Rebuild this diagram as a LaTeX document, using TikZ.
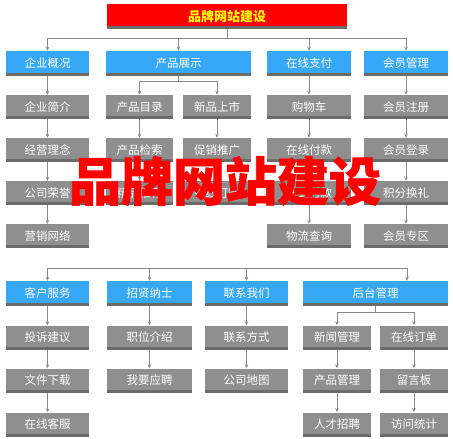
\documentclass[tikz,border=0pt]{standalone}
\usepackage{fontspec}
\setmainfont{Noto Sans CJK SC}
\newfontfamily\wmfont[BoldFeatures={FakeBold=1.2}]{Noto Sans CJK SC}
\usetikzlibrary{arrows.meta}
\definecolor{bluebox}{HTML}{36A8F5}
\definecolor{graybox}{HTML}{8F8F8F}
\definecolor{strip}{HTML}{6B6B6B}
\definecolor{lineg}{HTML}{8A8A8A}
\definecolor{titlered}{HTML}{FF0000}
\definecolor{titleyel}{HTML}{FFFF00}
\tikzset{
  basebox/.style={rectangle, inner sep=0pt, text=white, font=\fontsize{11.5}{12}\selectfont,
    path picture={\fill[strip] (path picture bounding box.south west) rectangle ([yshift=3pt]path picture bounding box.south east);}},
  gbox/.style={basebox, fill=graybox, minimum height=24pt},
  bbox/.style={basebox, fill=bluebox, minimum height=25pt},
  conn/.style={draw=lineg, line width=0.8pt},
  arr/.style={conn, -{Stealth[length=4pt,width=3.5pt]}},
}
\begin{document}
\begin{tikzpicture}[x=1pt,y=-1pt]
\useasboundingbox[fill=white] (0,0) rectangle (453,439);
% title
\node[basebox, fill=titlered, minimum width=240pt, minimum height=25pt, text=titleyel, font=\fontsize{13}{14}\selectfont\bfseries] (title) at (227,16.5) {品牌网站建设};
\coordinate (bus1) at (0,38);
\coordinate (bus2) at (0,268);
\coordinate (bus3) at (0,81);
\coordinate (bus4) at (0,312);
% upper row 1
\node[bbox, minimum width=83pt] (a0) at (47.5,63.5) {企业概况};
\node[bbox, minimum width=145pt] (b0) at (178.5,63.5) {产品展示};
\node[bbox, minimum width=84pt] (c0) at (309,63.5) {在线支付};
\node[bbox, minimum width=84pt] (d0) at (406,63.5) {会员管理};
% column A
\node[gbox, minimum width=83pt] (a1) at (47.5,107) {企业简介};
\node[gbox, minimum width=83pt] (a2) at (47.5,150) {经营理念};
\node[gbox, minimum width=83pt] (a3) at (47.5,193) {公司荣誉};
\node[gbox, minimum width=83pt] (a4) at (47.5,236) {营销网络};
% column B1
\node[gbox, minimum width=67pt] (e1) at (139.5,107) {产品目录};
\node[gbox, minimum width=67pt] (e2) at (139.5,150) {产品检索};
\node[gbox, minimum width=67pt] (e3) at (139.5,193) {精品推荐};
% column B2
\node[gbox, minimum width=68pt] (f1) at (217,107) {新品上市};
\node[gbox, minimum width=68pt] (f2) at (217,150) {促销推广};
\node[gbox, minimum width=68pt] (f3) at (217,193) {在线订购};
% column C
\node[gbox, minimum width=84pt] (c1) at (309,107) {购物车};
\node[gbox, minimum width=84pt] (c2) at (309,150) {在线付款};
\node[gbox, minimum width=84pt] (c3) at (309,193) {货到付款};
\node[gbox, minimum width=84pt] (c4) at (309,236) {物流查询};
% column D
\node[gbox, minimum width=84pt] (d1) at (406,107) {会员注册};
\node[gbox, minimum width=84pt] (d2) at (406,150) {会员登录};
\node[gbox, minimum width=84pt] (d3) at (406,193) {积分换礼};
\node[gbox, minimum width=84pt] (d4) at (406,236) {会员专区};
% lower row 1
\node[bbox, minimum width=83pt] (g0) at (47.5,293.5) {客户服务};
\node[bbox, minimum width=85pt] (h0) at (149.5,293.5) {招贤纳士};
\node[bbox, minimum width=83pt] (i0) at (246.5,293.5) {联系我们};
\node[bbox, minimum width=145pt] (j0) at (375.5,293.5) {后台管理};
\node[gbox, minimum width=83pt] (g1) at (47.5,337.5) {投诉建议};
\node[gbox, minimum width=83pt] (g2) at (47.5,380.5) {文件下载};
\node[gbox, minimum width=83pt] (g3) at (47.5,424.5) {在线客服};
\node[gbox, minimum width=85pt] (h1) at (149.5,337.5) {职位介绍};
\node[gbox, minimum width=85pt] (h2) at (149.5,380.5) {我要应聘};
\node[gbox, minimum width=83pt] (i1) at (246.5,337.5) {联系方式};
\node[gbox, minimum width=83pt] (i2) at (246.5,380.5) {公司地图};
\node[gbox, minimum width=68pt] (k1) at (337,337.5) {新闻管理};
\node[gbox, minimum width=68pt] (k2) at (337,380.5) {产品管理};
\node[gbox, minimum width=68pt] (k3) at (337,424.5) {人才招聘};
\node[gbox, minimum width=68pt] (l1) at (414,337.5) {在线订单};
\node[gbox, minimum width=68pt] (l2) at (414,380.5) {留言板};
\node[gbox, minimum width=68pt] (l3) at (414,424.5) {访问统计};
% top bus
\draw[conn] (title.south) -- (title.south |- bus1);
\draw[conn] (a0.north |- bus1) -- (d0.north |- bus1);
\foreach \n in {a0,b0,c0,d0} \draw[arr] (\n.north |- bus1) -- (\n.north);
% product sub-bus
\draw[conn] (b0.south) -- (b0.south |- bus3);
\draw[conn] (e1.north |- bus3) -- (f1.north |- bus3);
\foreach \n in {e1,f1} \draw[arr] (\n.north |- bus3) -- (\n.north);
% lower bus
\coordinate (jq) at (407,268);
\draw[conn] (g0.north |- bus2) -- (jq);
\foreach \n in {g0,h0,i0} \draw[arr] (\n.north |- bus2) -- (\n.north);
\draw[arr] (jq) -- (jq |- j0.north);
% backend sub-bus
\draw[conn] (j0.south) -- (j0.south |- bus4);
\draw[conn] (k1.north |- bus4) -- (l1.north |- bus4);
\foreach \n in {k1,l1} \draw[arr] (\n.north |- bus4) -- (\n.north);
% vertical chains
\foreach \u/\v in {a0/a1,a1/a2,a2/a3,a3/a4,e1/e2,e2/e3,f1/f2,f2/f3,c0/c1,c1/c2,c2/c3,c3/c4,d0/d1,d1/d2,d2/d3,d3/d4,
  g0/g1,g1/g2,g2/g3,h0/h1,h1/h2,i0/i1,i1/i2,k1/k2,k2/k3,l1/l2,l2/l3}
  \draw[arr] (\u.south) -- (\v.north);
% watermark
\node[text=titlered, font=\wmfont\fontsize{52}{54}\selectfont\bfseries, inner sep=0pt] (wm) at (225,181) {品牌网站建设};
\end{tikzpicture}
\end{document}
